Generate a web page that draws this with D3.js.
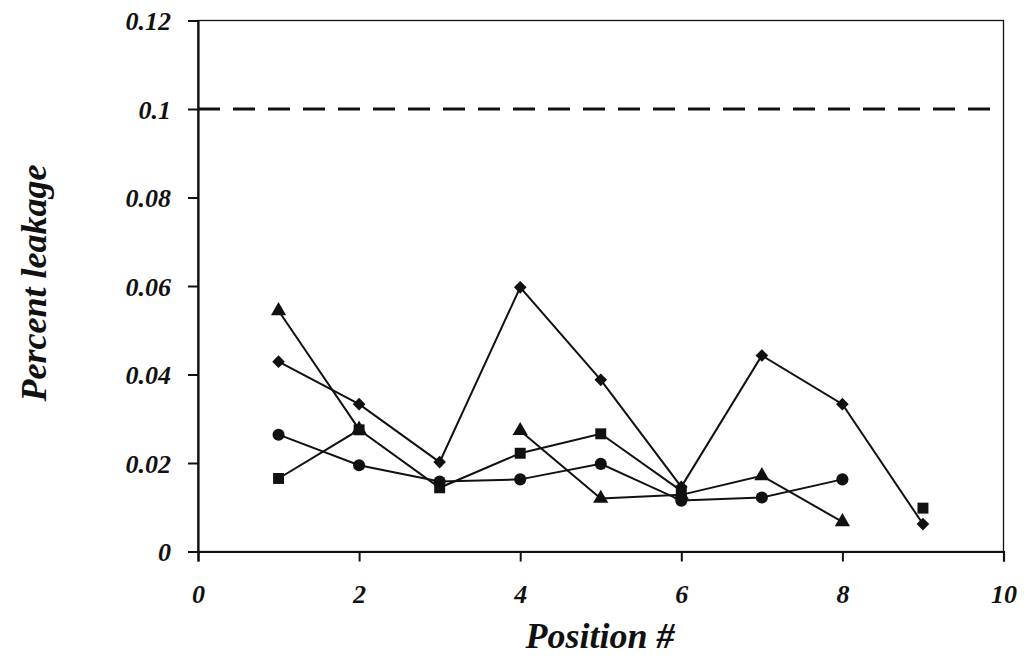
<!DOCTYPE html>
<html><head><meta charset="utf-8">
<script src="https://cdn.jsdelivr.net/npm/d3@7"></script>
<style>body{margin:0;background:#fff}svg{display:block}</style>
</head><body>
<svg id="c" width="1026" height="659"></svg>
<script>
const positions = [1,2,3,4,5,6,7,8,9];
const diamond  = [0.0429,0.0333,0.0202,0.0597,0.0388,0.0146,0.0443,0.0333,0.0062];
const square   = [0.0165,0.0275,0.0144,0.0222,0.0266,0.0137,null,null,0.0098];
const triangle = [0.0544,0.0276,null,0.0273,0.0120,0.0128,0.0171,0.0067,null];
const circle   = [0.0264,0.0195,0.0158,0.0163,0.0198,0.0115,0.0122,0.0163,null];
const limit = 0.1;
const xTicks = [0,2,4,6,8,10];
const yTicks = [0,0.02,0.04,0.06,0.08,0.1,0.12];
const yTickLabels = ["0","0.02","0.04","0.06","0.08","0.1","0.12"];

const svg = d3.select("#c");
const L=198, R=1003.5, T=20.5, B=551.5;
const x = d3.scaleLinear().domain([0,10]).range([L,R]);
const y = d3.scaleLinear().domain([0,0.12]).range([B,T]);
const font = "'Liberation Serif','Times New Roman',serif";

// frame
svg.append("rect").attr("x",L).attr("y",T).attr("width",R-L).attr("height",B-T)
  .attr("fill","none").attr("stroke","#111").attr("stroke-width",1.3);

// axes
const xa = svg.append("g").attr("transform",`translate(0,${B})`)
  .call(d3.axisBottom(x).tickValues(xTicks).tickSize(10).tickFormat(d3.format("d")));
const ya = svg.append("g").attr("transform",`translate(${L},0)`)
  .call(d3.axisLeft(y).tickValues(yTicks).tickSize(10).tickFormat((d,i)=>yTickLabels[i]));
[xa,ya].forEach(g=>{
  g.select(".domain").attr("stroke","#111").attr("stroke-width",2.2);
  g.selectAll(".tick line").attr("stroke","#111").attr("stroke-width",2);
  g.selectAll("text").attr("fill","#111").attr("font-family",font)
    .attr("font-size",26).attr("font-weight","bold").attr("font-style","italic");
});
xa.selectAll("text").attr("dy",0).attr("y",51);
ya.selectAll("text").attr("x",-27).attr("dy","0.35em");

// limit line
svg.append("line").attr("x1",x(0)).attr("x2",x(10)).attr("y1",y(limit)).attr("y2",y(limit))
  .attr("stroke","#111").attr("stroke-width",3).attr("stroke-dasharray","22,13");

const diamondSym = {draw(ctx,size){const r=Math.sqrt(size/2);ctx.moveTo(0,-r);ctx.lineTo(r,0);ctx.lineTo(0,r);ctx.lineTo(-r,0);ctx.closePath();}};
const series = [
  {v:diamond, sym:diamondSym, size:80},
  {v:square, sym:d3.symbolSquare, size:120},
  {v:triangle, sym:d3.symbolTriangle, size:100},
  {v:circle, sym:d3.symbolCircle, size:115}
];
const line = d3.line().defined(d=>d[1]!=null).x(d=>x(d[0])).y(d=>y(d[1]));
series.forEach(s=>{
  const pts = positions.map((p,i)=>[p,s.v[i]]);
  svg.append("path").attr("d",line(pts)).attr("fill","none")
    .attr("stroke","#111").attr("stroke-width",2);
});
series.forEach(s=>{
  const pts = positions.map((p,i)=>[p,s.v[i]]).filter(d=>d[1]!=null);
  svg.selectAll(null).data(pts).enter().append("path")
    .attr("d",d3.symbol().type(s.sym).size(s.size))
    .attr("transform",d=>`translate(${x(d[0])},${y(d[1])})`)
    .attr("fill","#111");
});

// titles
svg.append("text").attr("x",600).attr("y",648).attr("text-anchor","middle")
  .attr("font-family",font).attr("font-size",36).attr("font-weight","bold").attr("font-style","italic")
  .attr("fill","#111").text("Position #");
svg.append("text").attr("transform","translate(46,283) rotate(-90)").attr("text-anchor","middle")
  .attr("font-family",font).attr("font-size",36).attr("font-weight","bold").attr("font-style","italic")
  .attr("fill","#111").text("Percent leakage");
</script>
</body></html>
